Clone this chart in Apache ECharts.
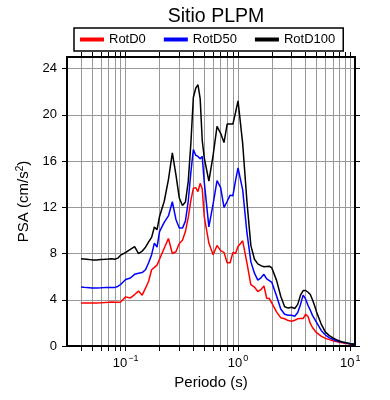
<!DOCTYPE html>
<html>
<head>
<meta charset="utf-8">
<script src="https://cdn.jsdelivr.net/npm/echarts@6/dist/echarts.min.js"></script>
<style>
  html, body { margin: 0; padding: 0; background: #fff; }
  #chart { width: 390px; height: 400px; }
</style>
</head>
<body>
<div id="chart"></div>
<script>
// periodos (s)
const periods = [
  0.04, 0.045, 0.05, 0.055, 0.06, 0.065, 0.07, 0.075, 0.08, 0.085, 0.09,
  0.1, 0.11, 0.12, 0.13, 0.14, 0.15, 0.16, 0.17, 0.18, 0.19,
  0.2, 0.22, 0.24, 0.26, 0.28, 0.3, 0.32, 0.34, 0.36, 0.38,
  0.4, 0.42, 0.44, 0.46, 0.48, 0.5, 0.55, 0.6, 0.65, 0.7, 0.75, 0.8, 0.85, 0.9, 0.95,
  1.0, 1.1, 1.2, 1.3, 1.4, 1.5, 1.6, 1.7, 1.8, 1.9,
  2.0, 2.2, 2.4, 2.6, 2.8, 3.0, 3.2, 3.4, 3.6, 3.8,
  4.0, 4.2, 4.4, 4.6, 4.8, 5.0, 5.5, 6.0, 6.5, 7.0, 7.5, 8.0, 8.5, 9.0, 9.5, 10, 11
];

// PSA (cm/s2)
const rotD0 = [
  3.73, 3.72, 3.72, 3.73, 3.74, 3.76, 3.78, 3.81, 3.78, 3.79, 3.81,
  4.25, 4.16, 4.45, 4.75, 4.4, 5.0, 5.6, 6.6, 6.8, 7.0,
  7.5, 8.45, 9.3, 8.0, 8.15, 8.87, 9.15, 9.9, 11.1, 12.6,
  13.64, 13.7, 13.35, 14.07, 13.6, 11.2, 8.9, 7.9, 8.7, 8.25, 8.1, 7.2, 7.2, 8.1, 8.0,
  8.6, 9.1, 7.2, 5.3, 5.1, 4.7, 4.87, 5.2, 4.13, 4.1,
  3.7, 2.95, 2.45, 2.36, 2.2, 2.14, 2.23, 2.35, 2.37, 2.37,
  2.75, 2.55, 1.95, 1.6, 1.36, 1.15, 0.85, 0.66, 0.55, 0.46, 0.38, 0.32, 0.27, 0.23, 0.2, 0.17, 0.12
];

const rotD50 = [
  5.1, 5.05, 5.02, 5.02, 5.03, 5.05, 5.07, 5.07, 5.07, 5.15, 5.32,
  5.75, 5.88, 6.2, 6.3, 6.35, 6.6, 7.2, 7.9, 8.9, 8.55,
  9.9, 10.7, 11.25, 12.48, 10.95, 10.2, 10.2, 10.8, 12.5, 15.0,
  17.0, 16.5, 16.4, 16.2, 16.4, 14.2, 10.3, 12.3, 14.3, 13.7, 12.0, 12.5, 13.05, 13.0, 14.3,
  15.4, 13.5, 9.8, 7.3, 6.3, 5.7, 5.9, 6.2, 5.8, 5.65,
  5.5, 4.35, 3.2, 2.75, 2.66, 2.66, 2.58, 2.9, 3.6, 4.4,
  4.05, 3.5, 3.1, 2.65, 2.35, 2.05, 1.35, 0.95, 0.7, 0.58, 0.45, 0.38, 0.32, 0.28, 0.23, 0.19, 0.14
];

const rotD100 = [
  7.55, 7.5, 7.45, 7.45, 7.48, 7.5, 7.52, 7.55, 7.5, 7.6, 7.86,
  8.09, 8.35, 8.6, 8.0, 8.2, 8.55, 9.0, 9.4, 10.3, 10.05,
  11.2, 12.5, 14.4, 16.7, 14.8, 12.8, 12.15, 12.45, 14.2, 17.5,
  21.5, 22.3, 22.6, 21.4, 17.8, 16.3, 14.27, 16.5, 19.0, 18.4, 17.6, 19.2, 19.2, 19.2, 20.2,
  21.2, 17.5, 12.5, 8.7, 7.5, 7.1, 6.95, 6.85, 6.88, 6.9,
  6.75, 5.7, 4.3, 3.4, 3.28, 3.35, 3.24, 3.6, 4.4, 4.8,
  4.8, 4.65, 4.45, 4.0, 3.5, 2.95, 1.9, 1.2, 0.9, 0.7, 0.55, 0.43, 0.35, 0.3, 0.25, 0.2, 0.15
];

const seriesNames = ['RotD0', 'RotD50', 'RotD100'];
const seriesColors = ['#ff0000', '#0000ff', '#000000'];

// ticks / rejilla
const xMinorTicks = [
  0.04, 0.05, 0.06, 0.07, 0.08, 0.09,
  0.1, 0.2, 0.3, 0.4, 0.5, 0.6, 0.7, 0.8, 0.9,
  1, 2, 3, 4, 5, 6, 7, 8, 9, 10
];
const xMajorTicks = [0.1, 1, 10];
const yTicks = [0, 4, 8, 12, 16, 20, 24];

const chart = echarts.init(document.getElementById('chart'));

const font = 'Liberation Sans, Arial, sans-serif';
const frame = { show: true, onZero: false, lineStyle: { color: '#000', width: 2 } };
const tick = { show: true, inside: false, length: 5, lineStyle: { color: '#000', width: 1 } };

const xBase = { type: 'log', logBase: 10, min: 0.03, max: 11 };

const makeData = vals => periods.map((t, i) => [t, vals[i]]);

chart.setOption({
  animation: false,
  backgroundColor: '#fff',
  title: {
    text: 'Sitio PLPM',
    left: 211,
    textAlign: 'center',
    top: 2,
    textStyle: { fontFamily: font, fontSize: 19.5, fontWeight: 'normal', color: '#000' }
  },
  legend: {
    left: 74,
    top: 28,
    icon: 'rect',
    itemWidth: 24,
    itemHeight: 4,
    itemGap: 18,
    padding: [5, 8, 5, 6],
    borderColor: '#000',
    borderWidth: 1.5,
    textStyle: { fontFamily: font, fontSize: 13, color: '#000' },
    data: seriesNames
  },
  grid: { left: 67, right: 35, top: 57, bottom: 54 },
  xAxis: [
    {
      ...xBase,
      position: 'bottom',
      name: 'Periodo (s)',
      nameLocation: 'middle',
      nameGap: 27,
      nameTextStyle: { fontFamily: font, fontSize: 15, color: '#000' },
      axisLine: frame,
      axisTick: { ...tick, customValues: xMinorTicks },
      axisLabel: {
        customValues: xMajorTicks,
        margin: 8,
        formatter: v => {
          const e = Math.round(Math.log10(v));
          return '{b|10}{e|' + (e < 0 ? '\u2212' + (-e) : e) + '}';
        },
        rich: {
          b: { fontFamily: font, fontSize: 13, color: '#000', lineHeight: 16, verticalAlign: 'bottom' },
          e: { fontFamily: font, fontSize: 9, color: '#000', lineHeight: 16, verticalAlign: 'top', padding: [0, 0, 0, 1] }
        }
      },
      splitLine: { show: true, lineStyle: { color: '#999', width: 1 } }
    },
    {
      ...xBase,
      position: 'top',
      axisLine: frame,
      axisTick: { ...tick, customValues: xMinorTicks },
      axisLabel: { show: false },
      splitLine: { show: false }
    }
  ],
  yAxis: [
    {
      type: 'value',
      min: 0,
      max: 25,
      position: 'left',
      name: '{a|PSA (cm/s}{s|2}{a|)}',
      nameLocation: 'middle',
      nameGap: 27,
      nameTextStyle: {
        rich: {
          a: { fontFamily: font, fontSize: 15, color: '#000', lineHeight: 18 },
          s: { fontFamily: font, fontSize: 10, color: '#000', lineHeight: 18, verticalAlign: 'top' }
        }
      },
      axisLine: frame,
      axisTick: { ...tick, customValues: yTicks },
      axisLabel: { customValues: yTicks, margin: 10, fontFamily: font, fontSize: 13, color: '#000' },
      splitLine: { show: true, lineStyle: { color: '#999', width: 1 } }
    },
    {
      type: 'value',
      min: 0,
      max: 25,
      position: 'right',
      axisLine: frame,
      axisTick: { ...tick, customValues: yTicks },
      axisLabel: { show: false },
      splitLine: { show: false }
    }
  ],
  series: [rotD0, rotD50, rotD100].map((vals, i) => ({
    name: seriesNames[i],
    type: 'line',
    data: makeData(vals),
    showSymbol: false,
    color: seriesColors[i],
    lineStyle: { color: seriesColors[i], width: 1.5 },
    z: 3 + i
  }))
});
</script>
</body>
</html>
